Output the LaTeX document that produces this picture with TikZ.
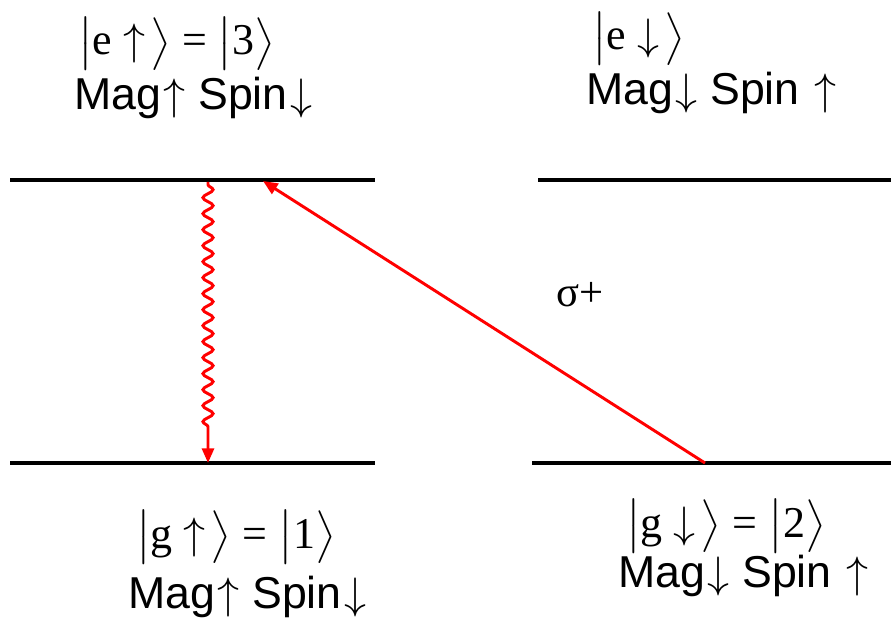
\documentclass[tikz,border=0pt]{standalone}
\usepackage{graphicx}
\usepackage{fontspec}
\setmainfont{Liberation Serif}
\newfontfamily\sansf{Liberation Sans}
\usetikzlibrary{decorations.pathmorphing,arrows.meta}
\newcommand{\ua}{\hspace{2pt}\scalebox{3.3}{\fontsize{10}{12}\selectfont$\uparrow$}}
\newcommand{\da}{\hspace{2pt}\scalebox{3.3}{\fontsize{10}{12}\selectfont$\downarrow$}}
\newcommand{\ketx}[1]{\scalebox{3.3}{\fontsize{10}{12}\selectfont #1}}
\begin{document}
\begin{tikzpicture}[x=0.75pt,y=-0.75pt,
  level/.style={line width=2.3pt},
  ket/.style={anchor=base west,inner sep=0pt},
  mag/.style={anchor=base west,inner sep=0pt,font=\sansf\fontsize{33.5}{36}\selectfont},
  trans/.style={red,line width=2.2pt,-{Triangle[length=11pt,width=9pt]}}]
\useasboundingbox (0,0) rectangle (891,620);
% levels
\coordinate (e3L) at (10,180);
\coordinate (e3R) at (375,180);
\coordinate (e4L) at (538,180);
\coordinate (e4R) at (891,180);
\coordinate (g1L) at (10,463);
\coordinate (g1R) at (375,463);
\coordinate (g2L) at (532,463);
\coordinate (g2R) at (891,463);
\draw[level] (e3L) -- (e3R);
\draw[level] (e4L) -- (e4R);
\draw[level] (g1L) -- (g1R);
\draw[level] (g2L) -- (g2R);
% transitions
\coordinate (wtop) at (208,182);
\coordinate (wbot) at (208,463);
\coordinate (sfrom) at (705,463);
\coordinate (sto) at (263,181);
\draw[trans,decorate,decoration={snake,amplitude=3.8pt,segment length=12pt,pre length=2pt,post length=22pt}] (wtop) -- (wbot);
\draw[trans] (sfrom) -- (sto);
\node[anchor=base west,inner sep=0pt,font=\fontsize{32}{36}\selectfont] (sig) at (556,306) {σ+};
% labels
\node[ket] (k3) at (78,55) {\ketx{$\big|$e $\uparrow\!\big\rangle$ = $\big|$3$\big\rangle$}};
\node[mag] (m3) at (74,110) {Mag\ua{} Spin\da};
\node[ket] (k4) at (592,50) {\ketx{$\big|$e $\downarrow\!\big\rangle$}};
\node[mag] (m4) at (586,105) {Mag\da{} Spin \ua};
\node[ket] (k1) at (136,548) {\ketx{$\big|$g $\uparrow\!\big\rangle$ = $\big|$1$\big\rangle$}};
\node[mag] (m1) at (128,608) {Mag\ua{} Spin\da};
\node[ket] (k2) at (626,537) {\ketx{$\big|$g $\downarrow\!\big\rangle$ = $\big|$2$\big\rangle$}};
\node[mag] (m2) at (618,587) {Mag\da{} Spin \ua};
\end{tikzpicture}
\end{document}
